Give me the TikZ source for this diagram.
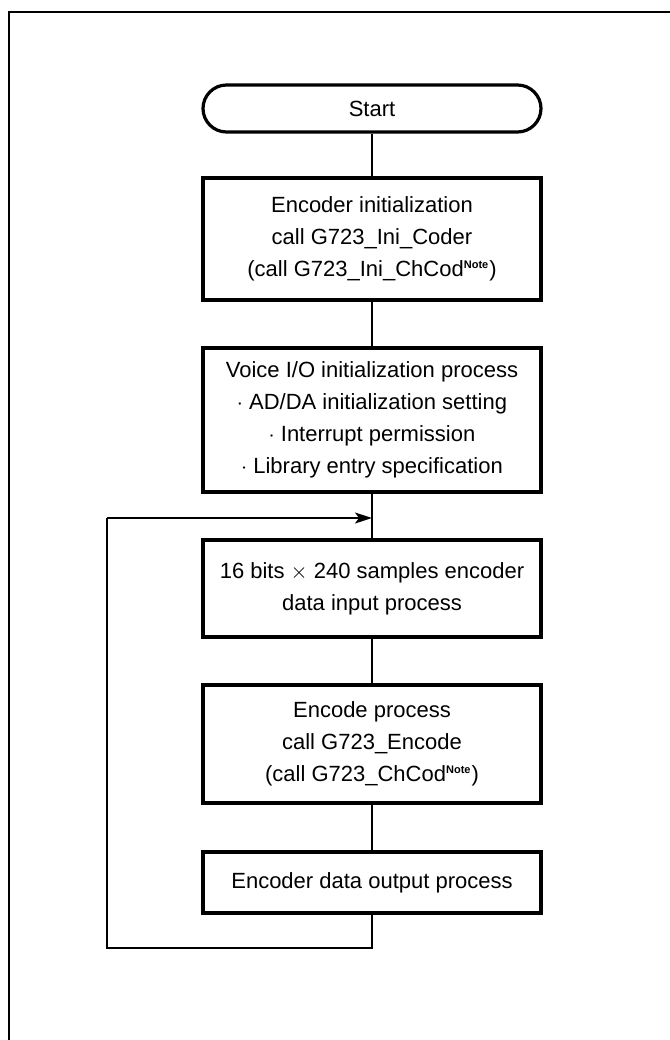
\documentclass[tikz,border=0pt]{standalone}
\usepackage{fontspec}
\setmainfont{Liberation Sans}
\usetikzlibrary{arrows.meta}

\newcommand{\notemark}{\textsuperscript{\fontsize{5.5}{5.5}\selectfont\bfseries Note}}

\begin{document}
\begin{tikzpicture}[x=0.5pt, y=-0.5pt,
    procbox/.style={draw, line width=1.6pt, minimum width=169pt, align=center,
      font=\fontsize{11}{16}\selectfont, inner sep=0pt},
    termbox/.style={procbox, rounded corners=11.75pt, minimum height=23.5pt},
    flowline/.style={line width=0.8pt}]

  \useasboundingbox (0,0) rectangle (670,1040);

  % outer frame
  \draw[line width=1pt] (9,1045) -- (9,12) -- (675,12);

  \node[termbox] (start) at (372,108.5) {Start};
  \node[procbox, minimum height=61pt] (init) at (372,239)
    {Encoder initialization\\call G723\_Ini\_Coder\\(call G723\_Ini\_ChCod\notemark)};
  \node[procbox, minimum height=72pt] (voiceio) at (372,420)
    {Voice I/O initialization process\\$\cdot$ AD/DA initialization setting\\$\cdot$ Interrupt permission\\$\cdot$ Library entry specification};
  \node[procbox, minimum height=48.5pt] (datain) at (372,588.5)
    {16 bits $\times$ 240 samples encoder\\data input process};
  \node[procbox, minimum height=59pt] (encode) at (372,744)
    {Encode process\\call G723\_Encode\\(call G723\_ChCod\notemark)};
  \node[procbox, minimum height=30.5pt] (dataout) at (372,882.5)
    {Encoder data output process};

  \coordinate (merge) at (372,518);
  \coordinate (loopbot) at (372,948);
  \coordinate (loopleft) at (107,948);
  \coordinate (looptop) at (107,518);

  \draw[flowline] (start) -- (init);
  \draw[flowline] (init) -- (voiceio);
  \draw[flowline] (voiceio) -- (datain);
  \draw[flowline] (datain) -- (encode);
  \draw[flowline] (encode) -- (dataout);

  % loop back
  \draw[flowline] (dataout) -- (loopbot) -- (loopleft) -- (looptop);
  \draw[flowline, -{Stealth[length=8.5pt, width=5.5pt, inset=2pt]}] (looptop) -- (merge);

\end{tikzpicture}
\end{document}
